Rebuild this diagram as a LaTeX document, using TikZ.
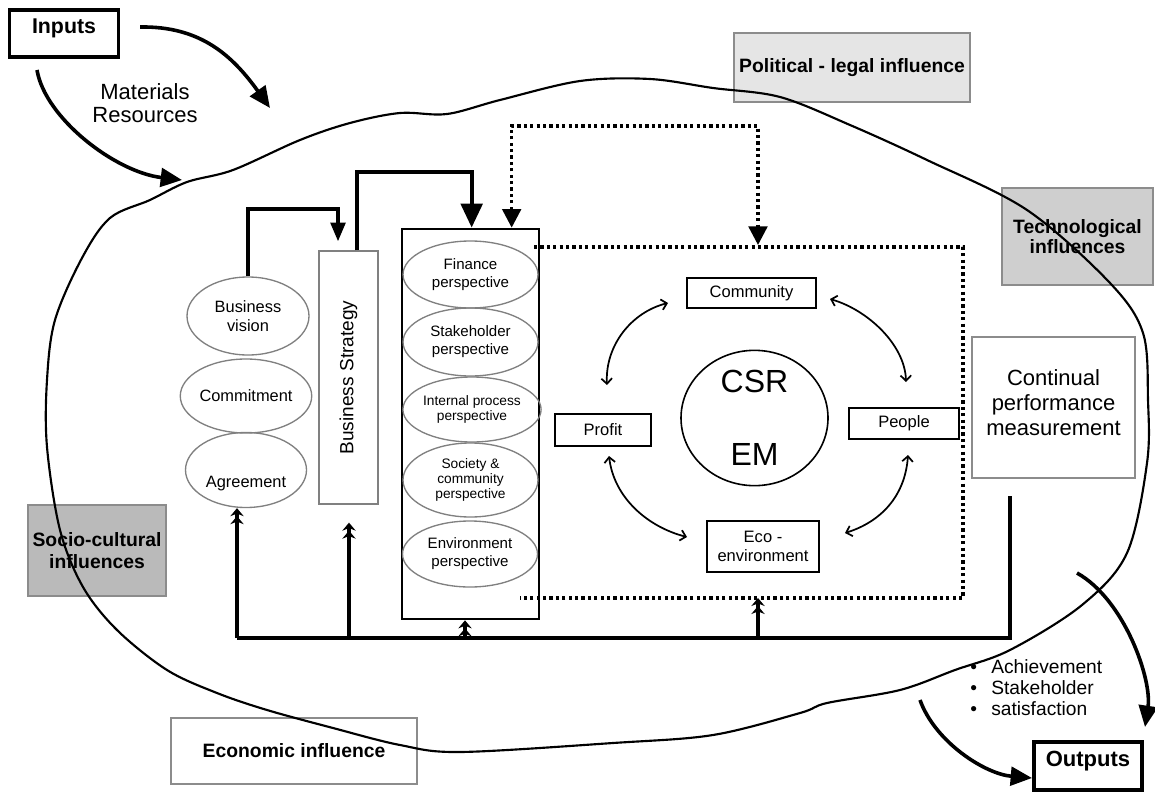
\documentclass[tikz,border=0pt]{standalone}
\usepackage{fontspec}
\setmainfont{Liberation Sans}
\usetikzlibrary{shapes.geometric,arrows.meta,calc}
\tikzset{
  blk/.style={draw=black, line width=2.2pt, fill=white, inner sep=0pt, align=center},
  infl/.style={draw=black!45, line width=1.2pt, inner sep=0pt, align=center, font=\fontsize{14.5}{16}\selectfont\bfseries},
  ell/.style={ellipse, draw=black!50, line width=1pt, inner sep=0pt, align=center},
  bigarr/.style={line width=2.7pt, -{Triangle[length=16pt,width=14pt]}},
  dotln/.style={line width=2.5pt, dash pattern=on 2.4pt off 2.4pt},
  fb/.style={line width=2.5pt},
  fbarr/.style={line width=2.5pt, -{Stealth[length=6pt,width=10pt]Stealth[length=6pt,width=10pt]}},
  dblarr/.style={line width=1.3pt, {Straight Barb[length=4pt,width=8pt]}-{Straight Barb[length=4pt,width=8pt]}}
}
\begin{document}
\begin{tikzpicture}[x=0.75pt,y=-0.75pt]
\useasboundingbox (0,0) rectangle (1155,792);
\fill[white] (0,0) rectangle (1155,792);

% influence boxes
\node[infl, fill=black!10, minimum width=177pt, minimum height=51.75pt] (pol) at (852,67.5) {Political - legal influence};
\node[infl, fill=black!19, minimum width=113.25pt, minimum height=72.75pt, font=\fontsize{14.5}{15.5}\selectfont\bfseries] (tech) at (1077.5,236.5) {Technological\\influences};
\node[infl, fill=black!27, minimum width=103.5pt, minimum height=68.25pt, font=\fontsize{14.5}{16.25}\selectfont\bfseries] (soc) at (97,550.5) {Socio-cultural\\influences};
\node[infl, fill=white, minimum width=184.5pt, minimum height=49.5pt] (econ) at (294,751) {Economic influence};
\node[infl, fill=white, minimum width=122.25pt, minimum height=105.75pt, font=\fontsize{16.5}{18.75}\selectfont, text depth=7.5pt] (cpm) at (1053.5,407.5) {Continual\\performance\\measurement};

% outline blob
\draw[line width=1.6pt] plot[smooth cycle, tension=0.55] coordinates {
(82,258) (110,218) (150,200) (187,182) (233,170) (300,140) (350,123) (400,113)
(447,114) (500,100) (580,81) (650,79) (713,88) (780,97) (850,125) (927,160)
(1027,210) (1110,283) (1143,333) (1148,400) (1147,463) (1127,553) (1082,605)
(1010,650) (955,670) (900,690) (827,703) (800,713) (713,735) (613,743) (460,752)
(400,745) (333,728) (267,710) (217,693) (167,670) (117,630) (83,587) (60,530)
(47,447) (47,380) (55,320)};

% inputs / outputs
\node[blk, line width=2.6pt, minimum width=81.75pt, minimum height=35.25pt, font=\fontsize{16}{18}\selectfont\bfseries, text height=11.5pt, text depth=11.5pt] (inputs) at (64,33.5) {Inputs};
\node[blk, line width=2.6pt, minimum width=81pt, minimum height=36pt, font=\fontsize{16.5}{18}\selectfont\bfseries, text height=11.5pt, text depth=11.5pt] (outputs) at (1088,766) {Outputs};
\node[font=\fontsize{16.5}{17.25}\selectfont, align=center] (mat) at (145,103.5) {Materials\\Resources};
\node[font=\fontsize{14.4}{15.75}\selectfont, align=left, anchor=west, inner sep=0pt] (ach) at (970,688) {\makebox[15.75pt][l]{•}Achievement\\\makebox[15.75pt][l]{•}Stakeholder\\\makebox[15.75pt][l]{•}satisfaction};

\coordinate (in1s) at (140,27);
\coordinate (in1e) at (270,108);
\coordinate (in2s) at (37,70);
\coordinate (in2e) at (182,180);
\draw[bigarr] (in1s) .. controls (200,26) and (232,55) .. (in1e);
\draw[bigarr] (in2s) .. controls (45,118) and (115,172) .. (in2e);
\coordinate (out1s) at (1077,573);
\coordinate (out1e) at (1145,727);
\coordinate (out2s) at (920,700);
\coordinate (out2e) at (1032,778);
\draw[bigarr] (out1s) .. controls (1125,600) and (1152,680) .. (out1e);
\draw[bigarr] (out2s) .. controls (935,742) and (985,774) .. (out2e);

% left column
\node[ell, minimum width=91.5pt, minimum height=58.5pt, font=\fontsize{12.3}{14.25}\selectfont] (vision) at (248,316) {Business\\vision};
\node[ell, minimum width=90.75pt, minimum height=55.5pt, font=\fontsize{12.3}{14.25}\selectfont] (commit) at (246,396) {Commitment};
\node[ell, minimum width=90.75pt, minimum height=56.25pt, font=\fontsize{12.3}{14.25}\selectfont, text height=26pt, text depth=0pt] (agree) at (246,470) {Agreement};
\node[draw=black!50, line width=1pt, rotate=90, minimum width=189.75pt, minimum height=44.25pt, inner sep=0pt, font=\fontsize{14.3}{16}\selectfont] (strategy) at (348.5,377.5) {Business Strategy};

% perspectives
\node[draw=black, line width=2pt, minimum width=102.75pt, minimum height=292.5pt, inner sep=0pt] (persp) at (470.5,424) {};
\node[ell, minimum width=101.25pt, minimum height=50.25pt, font=\fontsize{11.3}{13.5}\selectfont] (fin) at (470.5,274.5) {Finance\\perspective};
\node[ell, minimum width=101.25pt, minimum height=51pt, font=\fontsize{11.3}{13.5}\selectfont] (stake) at (470.5,342) {Stakeholder\\perspective};
\node[ell, minimum width=99pt, minimum height=48.75pt, font=\fontsize{10.3}{11.75}\selectfont] (intp) at (472,409.5) {Internal process\\perspective};
\node[ell, minimum width=101.25pt, minimum height=55.5pt, font=\fontsize{10.3}{11.5}\selectfont] (soccom) at (470.5,480) {Society \&\\community\\perspective};
\node[ell, minimum width=101.25pt, minimum height=49.5pt, font=\fontsize{11.3}{13.5}\selectfont] (envp) at (470,554) {Environment\\perspective};

% CSR block
\node[ellipse, draw=black, line width=1.2pt, minimum width=110.25pt, minimum height=100.5pt, inner sep=0pt, align=center, font=\fontsize{24}{55}\selectfont] (csr) at (754.5,418) {CSR\\EM};
\node[blk, minimum width=96.75pt, minimum height=22.5pt, font=\fontsize{12.4}{14}\selectfont] (comm) at (751.5,293) {Community};
\node[blk, minimum width=72pt, minimum height=24pt, font=\fontsize{12.4}{14}\selectfont] (profit) at (603,430) {Profit};
\node[blk, minimum width=82.5pt, minimum height=23.25pt, font=\fontsize{12.4}{14}\selectfont] (people) at (904,423.5) {People};
\node[blk, minimum width=84pt, minimum height=38.25pt, font=\fontsize{12.4}{14}\selectfont] (ecoenv) at (763,546.5) {Eco -\\environment};

\coordinate (a1) at (668,303); \coordinate (a2) at (607,385);
\coordinate (b1) at (830,299); \coordinate (b2) at (906,382);
\coordinate (c1) at (609,456); \coordinate (c2) at (687,537);
\coordinate (d1) at (908,455); \coordinate (d2) at (845,533);
\draw[dblarr] (a1) .. controls (632,312) and (605,345) .. (a2);
\draw[dblarr] (b1) .. controls (868,310) and (905,345) .. (b2);
\draw[dblarr] (c1) .. controls (614,498) and (648,527) .. (c2);
\draw[dblarr] (d1) .. controls (905,497) and (880,522) .. (d2);

% dotted frame
\coordinate (dA) at (534,247);
\coordinate (dB) at (963,247);
\coordinate (dC) at (963,598);
\coordinate (dD) at (520,598);
\coordinate (dE) at (758,598);
\coordinate (dF) at (758,245);
\draw[dotln] (dA) -- (dB) -- (dC) -- (dD);
\draw[dotln, {Triangle[length=14pt,width=14pt]}-{Triangle[length=14pt,width=14pt]}] ($(persp.north west)+(111,0)$) |- (635,126) -| (dF);

% connectors between left blocks
\draw[line width=2.6pt, -{Triangle[length=14pt,width=11pt]}] (vision.north) -- (248,209) -| ($(strategy.east)+(-10.5,-9)$);
\draw[line width=3.2pt, -{Triangle[length=18pt,width=16pt]}] ($(strategy.east)+(8.5,0)$) -- (357,172) -| ($(persp.north west)+(71,0)$);

% feedback
\coordinate (fbR) at (1010,496);
\coordinate (fbL) at (237,638);
\coordinate (fb2) at (349,638);
\coordinate (fb3) at (465,638);
\coordinate (fb4) at (758,638);
\draw[fb] (fbR) |- (fbL);
\draw[fbarr] (fbL) -- (fbL |- agree.south);
\draw[fbarr] (fb2) -- ($(strategy.west)+(0.5,18)$);
\draw[fbarr] (fb3) -- (fb3 |- persp.south);
\draw[fbarr] (fb4) -- (dE);
\end{tikzpicture}
\end{document}
